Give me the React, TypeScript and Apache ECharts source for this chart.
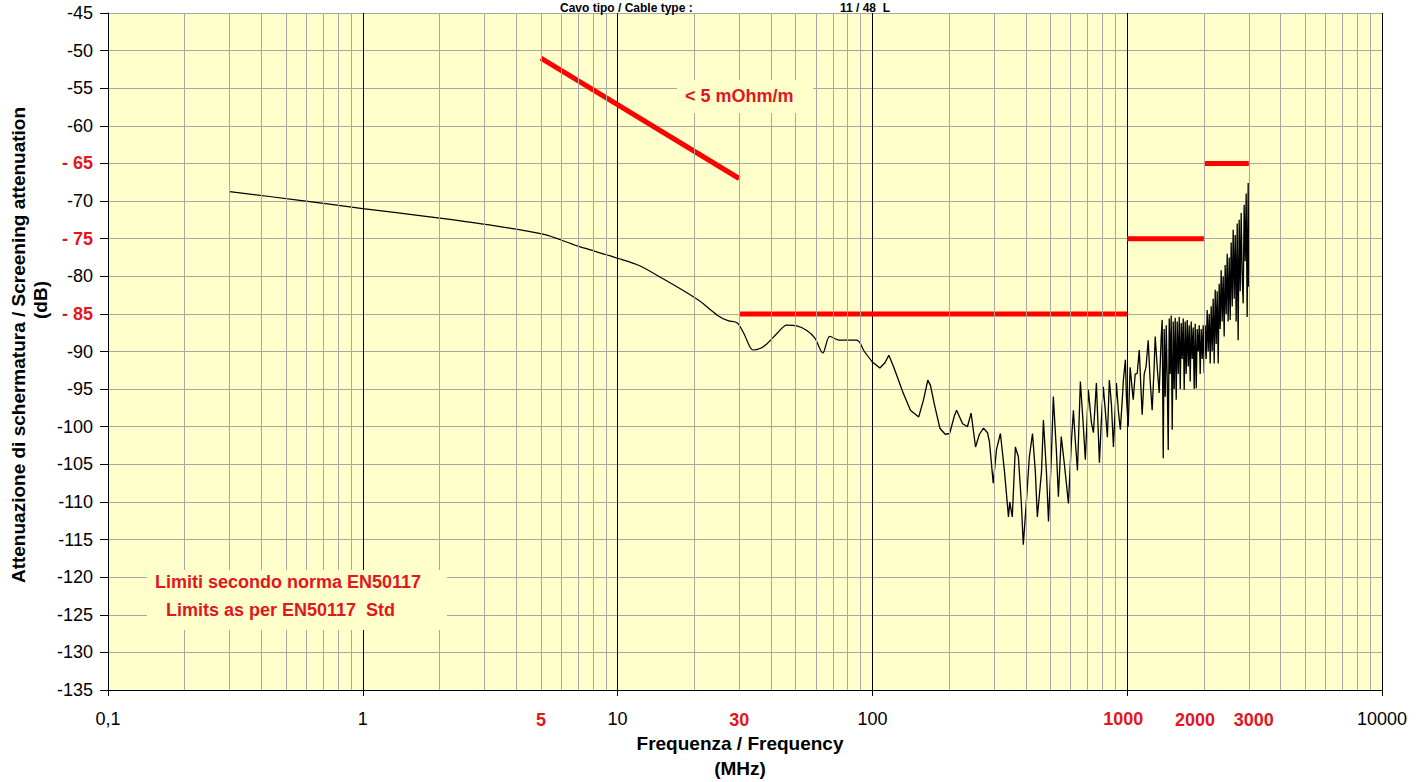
import React, { useEffect, useRef } from "react";
import * as echarts from "echarts";

// ---- Data ----
const curveFreq: number[] = [
  0.3, 0.566, 1.0, 1.83, 3.03, 5.1, 7.0, 10, 12.2, 15.2, 18.3, 21, 24.7, 27.1, 29.5, 31.3, 34.0, 36.2, 38.5, 42.2,
  46.2, 50.5, 55.3, 59.4, 63.9, 68.0, 74.5, 86.9, 93, 100, 107, 112, 116, 121, 125, 132, 141, 152, 158.5, 165,
  169, 175, 184, 193, 201, 210, 214, 226, 236, 244, 254, 263, 273, 283, 288, 298, 307, 318, 330, 342,
  346, 354, 364, 374, 384, 391, 402, 413, 425, 436, 444, 461, 469, 482, 491, 504, 513, 527, 537, 551,
  567, 588, 604, 615, 626, 638, 655, 673, 685, 704, 724, 737, 757, 778, 792, 806, 821, 836, 851, 867,
  883, 907, 924, 940, 958, 966, 984, 993, 1009, 1027, 1046, 1056, 1075, 1095, 1115, 1136, 1145, 1166, 1186, 1209,
  1231, 1253, 1276, 1288, 1311, 1335,
  1360, 1372, 1385, 1397, 1410, 1423, 1436, 1449, 1462, 1475, 1488, 1502, 1516, 1529, 1543, 1557, 1571, 1586, 1600, 1615,
  1629, 1644, 1659, 1674, 1689, 1704, 1720, 1736, 1751, 1767, 1783, 1799, 1816, 1832, 1849, 1866, 1883, 1900, 1917, 1934,
  1952, 1970, 1987, 2005, 2024, 2042, 2060, 2079, 2098, 2117, 2136, 2155, 2175, 2195, 2215, 2235, 2255, 2276, 2296, 2317,
  2338, 2359, 2381, 2402, 2424, 2446, 2469, 2490, 2514, 2536, 2559, 2583, 2606, 2630, 2654, 2677, 2702, 2725, 2751, 2776,
  2801, 2827, 2852, 2878, 2904, 2931, 2957, 2984, 3000,
];
const curveDb: number[] = [
  -68.75, -69.9, -71.0, -72.1, -73.1, -74.4, -76.0, -77.6, -78.6, -80.4, -82.0, -83.3, -85.2, -85.9, -86.2, -87.6, -89.8, -89.6, -89.0, -87.6,
  -86.5, -86.6, -87.2, -88.2, -90.2, -88.0, -88.5, -88.5, -90.0, -91.4, -92.2, -91.5, -90.5, -92, -93.3, -95.5, -97.8, -98.7, -96.5, -93.8,
  -94.5, -97, -100.2, -101, -100.9, -98.5, -97.8, -99.6, -100, -98.2, -102.7, -101, -100.2, -100.8, -102, -107.5, -103, -100.9, -106, -112,
  -110, -112, -102.7, -104, -110, -115.7, -110, -104, -100.9, -106, -112, -106, -99.1, -106, -112.6, -104, -96, -103, -109.3, -101.3,
  -105, -110.2, -102, -97.8, -102, -105.8, -94, -100, -104.4, -95.1, -99.5, -100.8, -94.2, -104.8, -99, -94.7, -98, -101.4, -93.8, -97,
  -102.7, -94.2, -98, -100.4, -96, -93.8, -91.1, -96, -100, -92.1, -95, -96.4, -93, -92.9, -89.8, -96, -98.4, -93, -92, -88.5,
  -94, -97.8, -92, -88, -92, -95.5,
  -88, -85.8, -104.2, -87, -96, -86.5, -94, -103.1, -85.6, -93, -85.2, -100.4, -86, -95, -85.5, -96.4, -86, -93, -85.4, -95,
  -86.2, -91, -85.6, -95.1, -86, -93, -85.8, -92, -86.5, -94, -86, -91, -86.8, -95, -86.3, -94.9, -87, -90, -86.5, -93,
  -87, -91, -86.5, -92.9, -86.5, -91, -84.5, -90, -85, -91.6, -84, -90, -83, -91.6, -81.8, -89, -82, -91.6, -81, -87,
  -79.2, -86, -80, -88, -78.5, -85, -77, -86, -77.5, -85.8, -75.5, -84, -73.8, -83, -74.5, -86, -73, -88.5, -72.5, -82,
  -71.6, -80, -83.6, -70.5, -78, -69, -85.4, -67.6, -81.4,
];

// Limit lines (EN50117)
const slopeLimit: [number, number][] = [[5, -51], [30, -67]];
const limit30to1000: [number, number][] = [[30, -85], [1000, -85]];
const limit1000to2000: [number, number][] = [[1000, -75], [2000, -75]];
const limit2000to3000: [number, number][] = [[2000, -65], [3000, -65]];

const redYTicks = [-65, -75, -85];
const extraXLabels = [5, 30, 2000, 3000];

const FONT = "'Liberation Sans', Arial, sans-serif";
const RED_TEXT = "#e3161d";
const RED_LINE = "#ff0000";
const GRID_GRAY = "#aaa9a0";
const PLOT_BG = "#ffffcc";

export default function App() {
  const ref = useRef<HTMLDivElement>(null);

  useEffect(() => {
    if (!ref.current) return;
    const chart = echarts.init(ref.current, null, { renderer: "svg" });

    const minorVals: number[] = [];
    [0.1, 1, 10, 100, 1000].forEach((d) => {
      for (let m = 2; m <= 9; m++) minorVals.push(+(d * m).toPrecision(6));
    });

    const points = curveFreq.map((f, i) => [f, curveDb[i]]);
    const splitIdx = curveFreq.indexOf(100);
    const smoothPart = points.slice(0, splitIdx + 1);
    const noisyPart = points.slice(splitIdx);

    const redLine = (name: string, data: [number, number][]) => ({
      name,
      type: "line",
      data,
      symbol: "none",
      z: 4,
      silent: true,
      lineStyle: { color: RED_LINE, width: 5 },
    });

    chart.setOption({
      animation: false,
      backgroundColor: "#ffffff",
      textStyle: { fontFamily: FONT },
      grid: {
        left: 108,
        right: 44,
        top: 13,
        bottom: 92,
        show: true,
        backgroundColor: PLOT_BG,
        borderWidth: 0,
      },
      xAxis: {
        type: "log",
        logBase: 10,
        min: 0.1,
        max: 10000,
        axisLine: { onZero: false, lineStyle: { color: "#000", width: 1 } },
        axisTick: { show: true, length: 6, lineStyle: { color: "#000" } },
        splitLine: { show: true, lineStyle: { color: "#000", width: 1 } },
        minorTick: { show: false },
        minorSplitLine: { show: false },
        axisLabel: {
          margin: 20,
          fontSize: 18,
          color: "#000",
          fontFamily: FONT,
          formatter: (v: number) => {
            if (Math.abs(v - 0.1) < 1e-9) return "0,1";
            const r = Math.round(v);
            if (r === 1000) return "{r|1000}";
            return String(r);
          },
          rich: {
            r: { color: RED_TEXT, fontWeight: "bold", fontSize: 18, fontFamily: FONT, padding: [0, 8, 0, 0] },
          },
        },
      },
      yAxis: {
        type: "value",
        min: -135,
        max: -45,
        interval: 5,
        axisLine: { show: true, lineStyle: { color: "#000", width: 1 } },
        axisTick: { show: true, length: 8, lineStyle: { color: "#000" } },
        splitLine: { show: true, lineStyle: { color: GRID_GRAY, width: 1 } },
        axisLabel: {
          margin: 15,
          fontSize: 18,
          color: "#000",
          fontFamily: FONT,
          formatter: (v: number) => {
            if (redYTicks.indexOf(v) >= 0) return "{r|- " + Math.abs(v) + "}";
            return String(v);
          },
          rich: {
            r: { color: RED_TEXT, fontWeight: "bold", fontSize: 18, fontFamily: FONT },
          },
        },
      },
      series: [
        {
          name: "minorGrid",
          type: "line",
          data: [],
          silent: true,
          z: 1,
          markLine: {
            silent: true,
            symbol: ["none", "none"],
            label: { show: false },
            emphasis: { disabled: true },
            lineStyle: { color: GRID_GRAY, width: 1, type: "solid" },
            data: minorVals.map((v) => ({ xAxis: v })),
          },
        },
        {
          name: "curveLow",
          type: "line",
          data: smoothPart,
          symbol: "none",
          smooth: 0.3,
          z: 3,
          silent: true,
          lineStyle: { color: "#000", width: 1.2 },
        },
        {
          name: "curveHigh",
          type: "line",
          data: noisyPart,
          symbol: "none",
          z: 3,
          silent: true,
          lineStyle: { color: "#000", width: 1.3 },
        },
        redLine("slope", slopeLimit),
        redLine("l1", limit30to1000),
        redLine("l2", limit1000to2000),
        redLine("l3", limit2000to3000),
      ],
    });

    const labelShift: Record<number, number> = { 5: 0, 30: 0, 2000: -9, 3000: 5 };
    const extra = extraXLabels.map((v) => {
      const p = chart.convertToPixel({ gridIndex: 0 }, [v, -135]) as number[];
      return {
        type: "text",
        x: p[0] + (labelShift[v] || 0),
        y: p[1] + 30,
        z: 20,
        style: {
          text: String(v),
          fill: RED_TEXT,
          font: "bold 18px " + FONT,
          textAlign: "center",
          textVerticalAlign: "middle",
        },
      };
    });

    chart.setOption({
      graphic: [
        {
          type: "text",
          x: 560,
          y: 8,
          z: 20,
          style: { text: "Cavo tipo / Cable type :", fill: "#000", font: "bold 12px " + FONT, textAlign: "left", textVerticalAlign: "middle" },
        },
        {
          type: "text",
          x: 840,
          y: 8,
          z: 20,
          style: { text: "11 / 48  L", fill: "#000", font: "bold 12px " + FONT, textAlign: "left", textVerticalAlign: "middle" },
        },
        {
          type: "text",
          x: 18,
          y: 345,
          rotation: Math.PI / 2,
          z: 20,
          style: {
            text: "Attenuazione di schermatura / Screening attenuation",
            fill: "#000",
            font: "bold 19px " + FONT,
            textAlign: "center",
            textVerticalAlign: "middle",
          },
        },
        {
          type: "text",
          x: 40,
          y: 300,
          rotation: Math.PI / 2,
          z: 20,
          style: { text: "(dB)", fill: "#000", font: "bold 19px " + FONT, textAlign: "center", textVerticalAlign: "middle" },
        },
        {
          type: "text",
          x: 740,
          y: 743,
          z: 20,
          style: { text: "Frequenza / Frequency", fill: "#000", font: "bold 19px " + FONT, textAlign: "center", textVerticalAlign: "middle" },
        },
        {
          type: "text",
          x: 740,
          y: 768,
          z: 20,
          style: { text: "(MHz)", fill: "#000", font: "bold 19px " + FONT, textAlign: "center", textVerticalAlign: "middle" },
        },
        {
          type: "rect",
          z: 10,
          shape: { x: 147, y: 570, width: 300, height: 60 },
          style: { fill: PLOT_BG },
        },
        {
          type: "text",
          x: 155,
          y: 582,
          z: 20,
          style: { text: "Limiti secondo norma EN50117", fill: RED_TEXT, font: "bold 18px " + FONT, textAlign: "left", textVerticalAlign: "middle" },
        },
        {
          type: "text",
          x: 166,
          y: 610,
          z: 20,
          style: { text: "Limits as per EN50117  Std", fill: RED_TEXT, font: "bold 18px " + FONT, textAlign: "left", textVerticalAlign: "middle" },
        },
        {
          type: "rect",
          z: 10,
          shape: { x: 677, y: 80, width: 136, height: 33 },
          style: { fill: PLOT_BG },
        },
        {
          type: "text",
          x: 685,
          y: 96,
          z: 20,
          style: { text: "< 5 mOhm/m", fill: RED_TEXT, font: "bold 18px " + FONT, textAlign: "left", textVerticalAlign: "middle" },
        },
        ...extra,
      ],
    });

    return () => {
      chart.dispose();
    };
  }, []);

  return (
    <div
      ref={ref}
      style={{ position: "fixed", left: 0, top: 0, width: 1426, height: 782 }}
    />
  );
}
